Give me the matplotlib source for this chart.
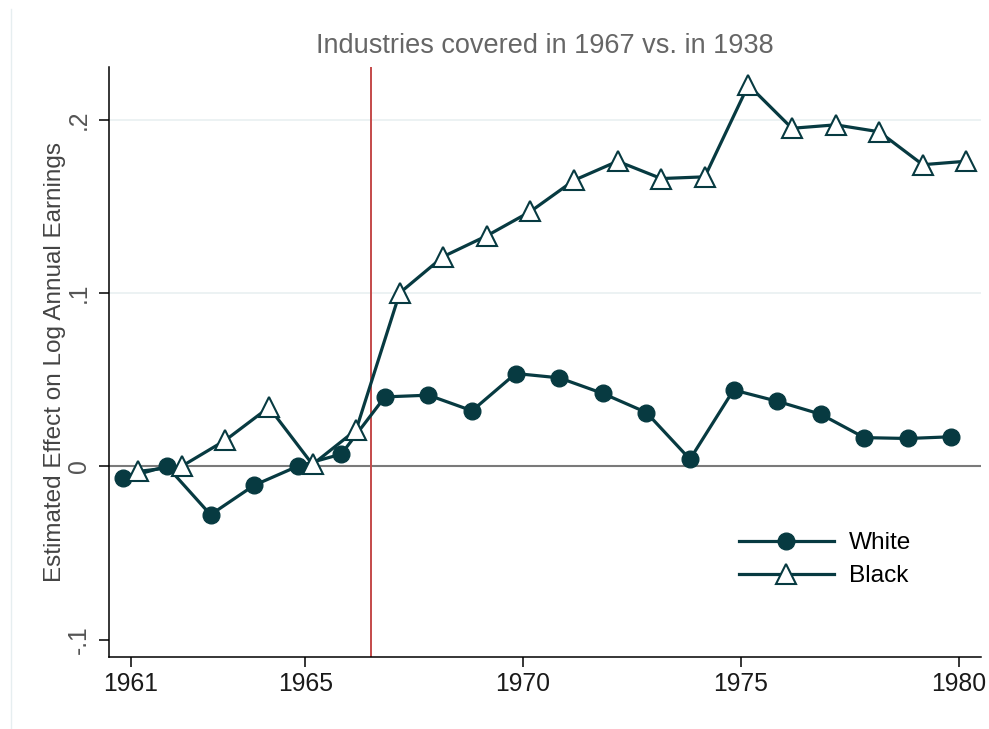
import matplotlib
matplotlib.use('Agg')
import matplotlib.pyplot as plt
from matplotlib.lines import Line2D

plt.rcParams['font.family'] = ['Liberation Sans', 'DejaVu Sans']

# Data
years = list(range(1961, 1981))
white = [-0.007, 0.000, -0.028, -0.011, 0.000, 0.007, 0.040, 0.041, 0.032, 0.0535,
         0.051, 0.042, 0.031, 0.004, 0.044, 0.0375, 0.030, 0.0165, 0.016, 0.017]
black = [-0.003, 0.000, 0.015, 0.034, 0.001, 0.021, 0.100, 0.121, 0.133, 0.147,
         0.165, 0.176, 0.166, 0.167, 0.220, 0.195, 0.197, 0.193, 0.174, 0.176]
xticks = [1961, 1965, 1970, 1975, 1980]
yticks = [-0.1, 0, 0.1, 0.2]
ytick_labels = ['-.1', '0', '.1', '.2']
event_year = 1966.5
offset = 0.17

line_col = '#073a41'
W, H = 989, 729

fig = plt.figure(figsize=(W / 100, H / 100), dpi=100)
ax = fig.add_axes([109 / W, 1 - 656.5 / H, (980.7 - 109) / W, (656.5 - 67.3) / H])

# light grid lines at .1 and .2
for y in [0.1, 0.2]:
    ax.axhline(y, color='#eaf1f2', linewidth=1.3, zorder=0)
ax.axhline(0, color='#7a7a7a', linewidth=1.5, zorder=1)
ax.axvline(event_year, color='#c44a4a', linewidth=1.4, zorder=1)

xw = [y - offset for y in years]
xb = [y + offset for y in years]
ax.plot(xw, white, color=line_col, linewidth=2.3, marker='o', markersize=12,
        markerfacecolor=line_col, markeredgecolor=line_col, zorder=3, label='White')
ax.plot(xb, black, color=line_col, linewidth=2.3, marker='^', markersize=14.5,
        markerfacecolor='white', markeredgecolor=line_col, markeredgewidth=1.5,
        zorder=3, label='Black')

ax.set_xlim(1960.5, 1980.5)
ax.set_ylim(-0.1098, 0.2302)

ax.spines['top'].set_visible(False)
ax.spines['right'].set_visible(False)
ax.spines['left'].set_linewidth(1.1)
ax.spines['bottom'].set_linewidth(1.1)

ax.set_xticks(xticks)
ax.set_xticklabels([str(t) for t in xticks], fontsize=17.8, color='#1a1a1a')
ax.set_yticks(yticks)
ax.set_yticklabels(ytick_labels, fontsize=17.8, color='#555555', rotation=90, va='center')
ax.tick_params(axis='both', direction='out', length=7, width=1.1, pad=4)
ax.tick_params(axis='y', pad=6)

ax.set_ylabel('Estimated Effect on Log Annual Earnings', fontsize=17.5, color='#444444', labelpad=1)
ax.set_title('Industries covered in 1967 vs. in 1938', fontsize=19.5, color='#666666', pad=10)

handles = [
    Line2D([], [], color=line_col, linewidth=2.3, marker='o', markersize=12,
           markerfacecolor=line_col, markeredgecolor=line_col),
    Line2D([], [], color=line_col, linewidth=2.3, marker='^', markersize=14.5,
           markerfacecolor='white', markeredgecolor=line_col, markeredgewidth=1.5),
]
leg = ax.legend(handles, ['White', 'Black'], loc='lower right', bbox_to_anchor=(0.945, 0.08),
                frameon=False, fontsize=17.6, handlelength=3.9, handletextpad=0.6,
                labelspacing=0.45)

# faint outer border on the left like the original export
fig.add_artist(Line2D([11 / W, 11 / W], [0, 1 - 9 / H], color='#e6eef0', linewidth=1))

fig.savefig('out.png', dpi=100)
